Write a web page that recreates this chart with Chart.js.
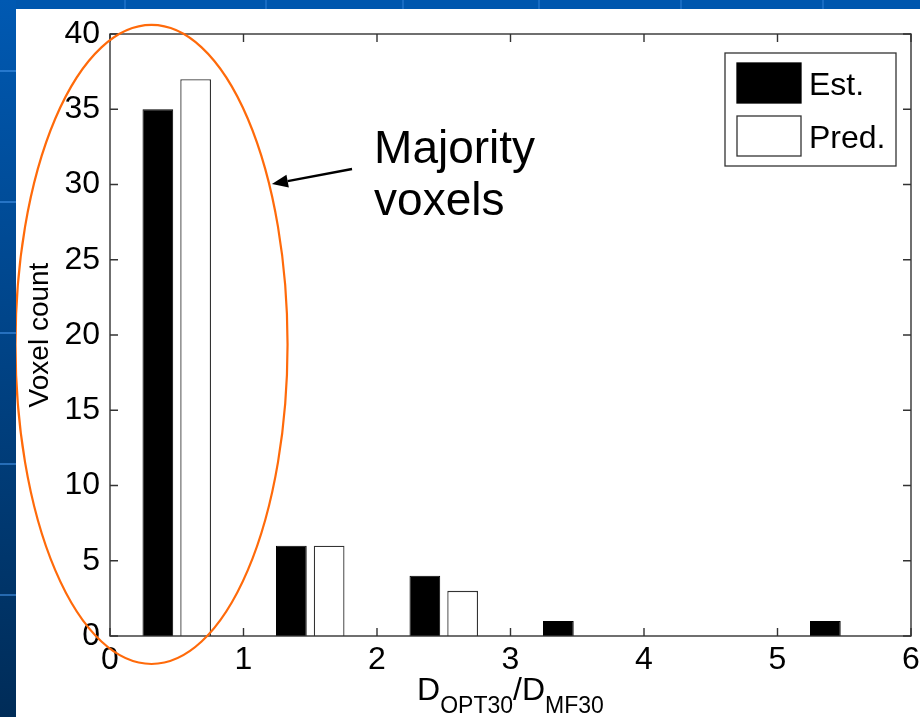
<!DOCTYPE html>
<html>
<head>
<meta charset="utf-8">
<script src="https://cdn.jsdelivr.net/npm/chart.js@4"></script>
<style>
  html, body { margin: 0; padding: 0; width: 920px; height: 717px; overflow: hidden; }
  body { position: relative; background: #0057ae; }
  #side { position: absolute; left: 0; top: 0; width: 16px; height: 717px;
          background: linear-gradient(#0059b2, #002c58); }
  .hseam { position: absolute; left: 0; width: 16px; height: 2px; background: rgba(70, 150, 235, 0.55); }
  .vseam { position: absolute; top: 0; width: 2px; height: 9px; background: rgba(70, 150, 235, 0.35); }
  #panel { position: absolute; left: 16px; top: 9px; width: 904px; height: 708px; background: #fff; }
  canvas { display: block; }
</style>
</head>
<body>
<div id="side"></div>
<div class="hseam" style="top:70px"></div>
<div class="hseam" style="top:201px"></div>
<div class="hseam" style="top:332px"></div>
<div class="hseam" style="top:463px"></div>
<div class="hseam" style="top:594px"></div>
<div class="vseam" style="left:124px"></div>
<div class="vseam" style="left:265px"></div>
<div class="vseam" style="left:402px"></div>
<div class="vseam" style="left:538px"></div>
<div class="vseam" style="left:680px"></div>
<div class="vseam" style="left:822px"></div>
<div id="panel"><canvas id="chart" width="904" height="708"></canvas></div>
<script>
// Histogram of D_OPT30 / D_MF30 ratios: bin centres and voxel counts
const binCenters = [0.5, 1.5, 2.5, 3.5, 4.5, 5.5];
const estCounts  = [35, 6, 4, 1, 0, 1];
const predCounts = [37, 6, 3, 0, 0, 0];
const xTickValues = [0, 1, 2, 3, 4, 5, 6];
const yTickValues = [0, 5, 10, 15, 20, 25, 30, 35, 40];
const seriesNames = ['Est.', 'Pred.'];

const FONT = '"Liberation Sans", Arial, Helvetica, sans-serif';
const AXIS_COLOR = '#333';

// Boxed axes with inward tick marks on all four sides
const boxFrame = {
  id: 'boxFrame',
  afterDatasetsDraw(chart) {
    const { ctx, chartArea: a, scales: { x, y } } = chart;
    const L = 8;
    ctx.save();
    ctx.strokeStyle = AXIS_COLOR;
    ctx.lineWidth = 1.4;
    ctx.strokeRect(a.left, a.top, a.right - a.left, a.bottom - a.top);
    ctx.beginPath();
    x.ticks.forEach(t => {
      const px = x.getPixelForValue(t.value);
      ctx.moveTo(px, a.bottom); ctx.lineTo(px, a.bottom - L);
      ctx.moveTo(px, a.top); ctx.lineTo(px, a.top + L);
    });
    y.ticks.forEach(t => {
      const py = y.getPixelForValue(t.value);
      ctx.moveTo(a.left, py); ctx.lineTo(a.left + L, py);
      ctx.moveTo(a.right, py); ctx.lineTo(a.right - L, py);
    });
    ctx.stroke();
    ctx.restore();
  }
};

// Boxed legend in the upper right corner of the axes
const boxLegend = {
  id: 'boxLegend',
  afterDraw(chart) {
    const { ctx, chartArea: a } = chart;
    const w = 171, h = 113;
    const left = a.right - 15 - w, top = a.top + 19;
    ctx.save();
    ctx.fillStyle = '#fff';
    ctx.fillRect(left, top, w, h);
    ctx.strokeStyle = AXIS_COLOR;
    ctx.lineWidth = 1.3;
    ctx.strokeRect(left, top, w, h);
    chart.data.datasets.forEach((ds, i) => {
      const sy = top + 10 + i * 53;
      ctx.fillStyle = ds.backgroundColor;
      ctx.fillRect(left + 12, sy, 64, 40);
      ctx.strokeStyle = ds.borderColor;
      ctx.lineWidth = 1.3;
      ctx.strokeRect(left + 12, sy, 64, 40);
      ctx.fillStyle = '#000';
      ctx.font = '32px ' + FONT;
      ctx.textBaseline = 'alphabetic';
      ctx.textAlign = 'left';
      ctx.fillText(ds.label, left + 84, top + 42 + i * 53);
    });
    ctx.restore();
  }
};

// X axis label with subscripts: D_OPT30 / D_MF30
const ratioLabel = {
  id: 'ratioLabel',
  afterDraw(chart) {
    const { ctx, chartArea: a } = chart;
    const big = '32px ' + FONT, small = '23px ' + FONT;
    const parts = [
      ['D', big, 0], ['OPT30', small, 13], ['/', big, 0], ['D', big, 0], ['MF30', small, 13]
    ];
    ctx.save();
    let total = 0;
    parts.forEach(p => { ctx.font = p[1]; total += ctx.measureText(p[0]).width; });
    let cx = (a.left + a.right) / 2 - total / 2;
    const base = chart.height - 17;
    ctx.fillStyle = '#000';
    ctx.textAlign = 'left';
    ctx.textBaseline = 'alphabetic';
    parts.forEach(p => {
      ctx.font = p[1];
      ctx.fillText(p[0], cx, base + p[2]);
      cx += ctx.measureText(p[0]).width;
    });
    ctx.restore();
  }
};

// Orange ellipse around the first bin, arrow and note
const majorityNote = {
  id: 'majorityNote',
  afterDraw(chart) {
    const { ctx, scales: { x, y } } = chart;
    const cx = x.getPixelForValue(0.311), cy = y.getPixelForValue(19.37);
    const rx = x.getPixelForValue(0.311 + 1.019) - cx;
    const ry = cy - y.getPixelForValue(19.37 + 21.23);
    ctx.save();
    ctx.strokeStyle = '#ff6a0a';
    ctx.lineWidth = 2.2;
    ctx.beginPath();
    ctx.ellipse(cx, cy, rx, ry, 0, 0, Math.PI * 2);
    ctx.stroke();

    const x0 = x.getPixelForValue(1.813), y0 = y.getPixelForValue(31.03);
    const x1 = x.getPixelForValue(1.213), y1 = y.getPixelForValue(30.03);
    const ang = Math.atan2(y1 - y0, x1 - x0);
    const head = 16, half = 6.5;
    const bx = x1 - head * Math.cos(ang), by = y1 - head * Math.sin(ang);
    ctx.strokeStyle = '#000';
    ctx.fillStyle = '#000';
    ctx.lineWidth = 2.4;
    ctx.beginPath();
    ctx.moveTo(x0, y0); ctx.lineTo(bx, by);
    ctx.stroke();
    ctx.beginPath();
    ctx.moveTo(x1, y1);
    ctx.lineTo(bx + half * Math.sin(ang), by - half * Math.cos(ang));
    ctx.lineTo(bx - half * Math.sin(ang), by + half * Math.cos(ang));
    ctx.closePath();
    ctx.fill();

    ctx.font = '46px ' + FONT;
    ctx.textAlign = 'left';
    ctx.textBaseline = 'alphabetic';
    const tx = x.getPixelForValue(1.978), ty = y.getPixelForValue(31.43);
    ctx.fillText('Majority', tx, ty);
    ctx.fillText('voxels', tx, ty + 52);
    ctx.restore();
  }
};

const toPoints = vals => binCenters.map((c, i) => ({ x: c, y: vals[i] }));

new Chart(document.getElementById('chart'), {
  type: 'bar',
  data: {
    datasets: [
      { label: seriesNames[0], data: toPoints(estCounts),
        backgroundColor: '#000', borderColor: '#000', borderWidth: 1 },
      { label: seriesNames[1], data: toPoints(predCounts),
        backgroundColor: '#fff', borderColor: AXIS_COLOR, borderWidth: 1.3 }
    ]
  },
  options: {
    responsive: false,
    animation: false,
    devicePixelRatio: 1,
    categoryPercentage: 0.566,
    barPercentage: 0.813,
    layout: { padding: { left: 7, top: 25, right: 9, bottom: 0 } },
    plugins: { legend: { display: false }, tooltip: { enabled: false } },
    scales: {
      x: {
        type: 'linear', min: 0, max: 6, offset: false,
        afterBuildTicks: s => { s.ticks = xTickValues.map(v => ({ value: v })); },
        afterFit: s => { s.height = 81; s.paddingLeft = 0; s.paddingRight = 0; },
        grid: { display: false, drawTicks: false, offset: false },
        border: { display: false },
        ticks: { color: '#000', padding: 5, maxRotation: 0, font: { size: 32, family: FONT } }
      },
      y: {
        min: 0, max: 40,
        afterBuildTicks: s => { s.ticks = yTickValues.map(v => ({ value: v })); },
        afterFit: s => { s.width = 87; s.paddingTop = 0; s.paddingBottom = 0; },
        grid: { display: false, drawTicks: false },
        border: { display: false },
        ticks: { color: '#000', padding: 10, font: { size: 32, family: FONT } },
        title: { display: true, text: 'Voxel count', color: '#000',
                 font: { size: 28, family: FONT }, padding: { top: 0, bottom: 0 } }
      }
    }
  },
  plugins: [boxFrame, boxLegend, ratioLabel, majorityNote]
});
</script>
</body>
</html>
